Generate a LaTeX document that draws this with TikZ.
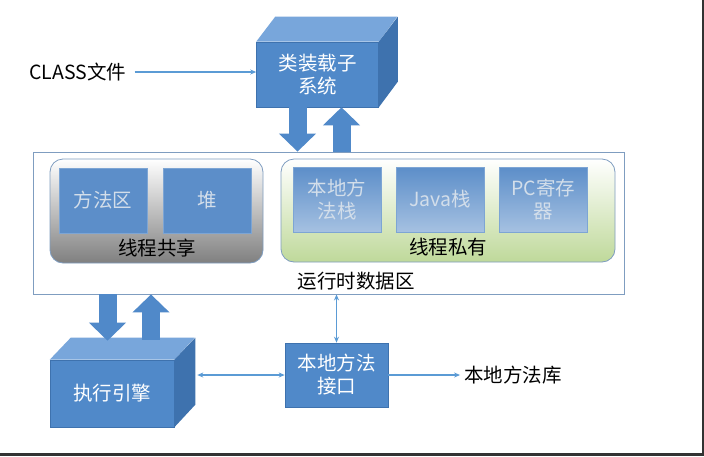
\documentclass[tikz,border=0pt]{standalone}
\usepackage{fontspec}
\setmainfont{Noto Sans CJK SC}
\usetikzlibrary{arrows.meta,positioning}
\definecolor{jvblue}   {HTML}{5089C9}
\definecolor{jvtop}    {HTML}{78A6DB}
\definecolor{jvside}   {HTML}{3E72AE}
\definecolor{jvline}   {HTML}{5B9BD5}
\definecolor{jvframe}  {HTML}{7F9DC0}
\definecolor{jvinner}  {HTML}{5C8EC9}
\definecolor{jvfaded}  {HTML}{D3DEEA}
\definecolor{jvgreen}  {HTML}{BFD99A}

\begin{document}
\begin{tikzpicture}[x=1pt, y=-1pt,
  every node/.style={font=\fontsize{19.5}{23}\selectfont, align=center, inner sep=0pt},
  cube/.style={rectangle, fill=jvblue, draw=jvside, line width=0.6pt, text=white},
  flat/.style={rectangle, fill=jvblue, draw=jvside, line width=0.6pt, text=white,
               minimum width=103, minimum height=64},
  area/.style={rectangle, fill=jvinner, draw=jvinner!80!white, text=jvfaded,
               minimum width=88, minimum height=65},
  stack/.style={area, top color=jvinner, bottom color=jvinner!55!white},
  group/.style={rectangle, rounded corners=13pt, draw=jvframe, line width=0.8pt},
  blockarr/.style={jvblue, line width=18pt, -{Triangle[length=18pt, width=36pt]}},
  thin/.style={jvline, line width=1.1pt, -{Stealth[length=6pt, width=5pt]}},
  both/.style={jvline, line width=1.1pt, {Stealth[length=6pt, width=5pt]}-{Stealth[length=6pt, width=5pt]}}
]
\useasboundingbox (0,0) rectangle (704,456);
\fill[white] (0,0) rectangle (704,456);
% screen border
\fill[black!80] (0,453) rectangle (704,456);
\fill[black!80] (702,0) rectangle (704,456);

% Runtime data area
\node[rectangle, draw=jvframe, line width=0.8pt, minimum width=591, minimum height=142] (rda) at (328.5,223) {};
\node (rdalabel) at (356,281) {运行时数据区};

% Thread shared
\node[group, top color=white, bottom color=black!50, minimum width=213, minimum height=104] (shared) at (156.5,211) {};
\node[area] (method) at (103,200.5) {方法区};
\node[area] (heap) at (207,200.5) {堆};
\node (sharedlabel) at (157,248) {线程共享};

% Thread private
\node[group, top color=white, bottom color=jvgreen, minimum width=334, minimum height=103] (private) at (448,210.5) {};
\node[stack] (native) at (337,199.5) {本地方\\法栈};
\node[stack] (java) at (440,199.5) {Java栈};
\node[stack] (pc) at (543.5,199.5) {PC寄存\\器};
\node (privatelabel) at (448,247) {线程私有};

% Class loader
\node[cube, minimum width=122, minimum height=65] (loader) at (317.5,74.5) {类装载子\\系统};
\fill[jvtop] (loader.north west) -- ++(19,-25) -- ++(122,0) -- (loader.north east) -- cycle;
\fill[jvside] (loader.north east) -- ++(19,-25) -- ++(0,65) -- (loader.south east) -- cycle;
\node (classfile) at (78,72) {CLASS文件};

% Execution engine
\node[cube, minimum width=124, minimum height=67] (exec) at (112,393.5) {执行引擎};
\fill[jvtop] (exec.north west) -- ++(21,-22) -- ++(124,0) -- (exec.north east) -- cycle;
\fill[jvside] (exec.north east) -- ++(21,-22) -- ++(0,67) -- (exec.south east) -- cycle;

% Native method interface
\node[flat] (jni) at (336.5,375) {本地方法\\接口};
\node (nativelib) at (513,375) {本地方法库};

% Arrows
\draw[blockarr] ([xshift=-20]loader.south |- rda.north) ++(0,-45) -- ([xshift=-20]loader.south |- rda.north);
\draw[blockarr] ([xshift=24]loader.south |- rda.north) -- ([xshift=24]loader.south);
\draw[blockarr] ([xshift=-4.5]exec.north |- rda.south) -- ([xshift=-4.5,yshift=19]exec.north);
\draw[blockarr] ([xshift=39,yshift=20]exec.north) -- ([xshift=39]exec.north |- rda.south);
\draw[thin] (classfile.east) ++(8,0) -- (loader.west |- classfile.east);
\draw[both] (jni.north |- rda.south) -- (jni.north);
\draw[both] ([xshift=23]exec.east |- jni.west) -- (jni.west);
\draw[thin] (jni.east) -- ([xshift=-4]nativelib.west);

\end{tikzpicture}
\end{document}
